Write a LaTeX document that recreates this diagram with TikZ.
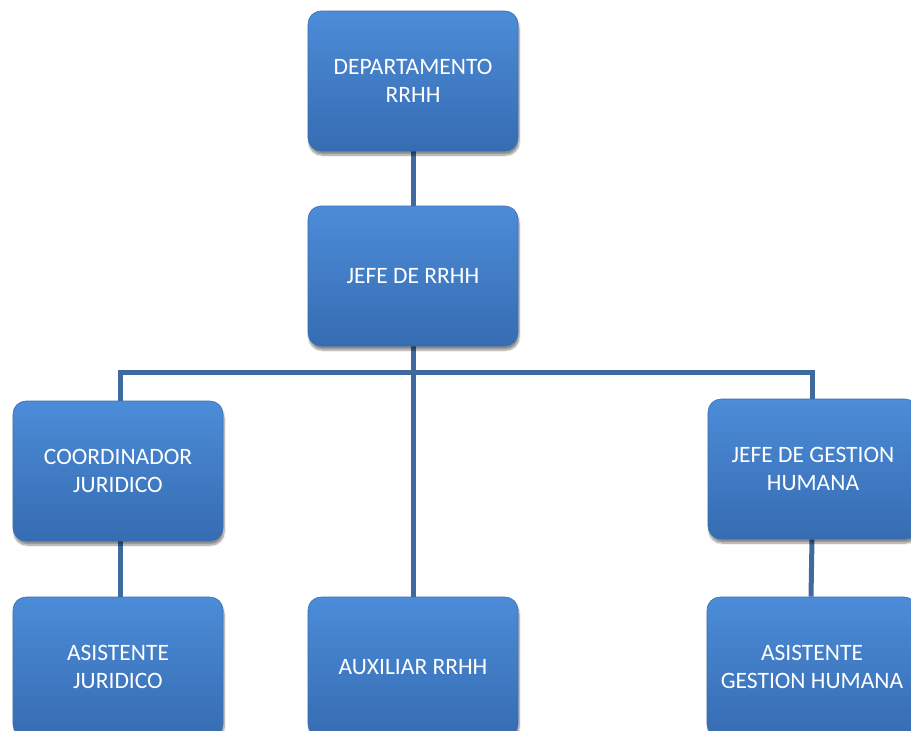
\documentclass[tikz,border=0pt]{standalone}
\usepackage{fontspec}
\setmainfont{Carlito}
\usetikzlibrary{shadows.blur,backgrounds}
\definecolor{boxtop}{RGB}{76,140,216}
\definecolor{boxbot}{RGB}{54,108,178}
\definecolor{boxrim}{RGB}{58,110,176}
\definecolor{linkcol}{RGB}{62,106,160}
\tikzset{
  orgbox/.style={rectangle, rounded corners=13pt, minimum width=210pt,
    minimum height=140pt, top color=boxtop, bottom color=boxbot,
    draw=boxrim, line width=0.6pt,
    blur shadow={shadow xshift=1pt, shadow yshift=-4pt, shadow blur steps=8, shadow opacity=45},
    text=white, align=center, inner sep=2pt,
    font=\fontsize{23.5pt}{28.5pt}\selectfont},
  link/.style={draw=linkcol, line width=5pt}
}
\begin{document}
\begin{tikzpicture}[x=1pt,y=-1pt]
\useasboundingbox (0,0) rectangle (911,731);
\node[orgbox] (dept) at (413,81) {DEPARTAMENTO\\RRHH};
\node[orgbox] (jefe) at (413,276) {JEFE DE RRHH};
\node[orgbox] (coord) at (118,471) {COORDINADOR\\JURIDICO};
\node[orgbox] (jg) at (813,469) {JEFE DE GESTION\\HUMANA};
\node[orgbox] (asj) at (118,667) {ASISTENTE\\JURIDICO};
\node[orgbox] (aux) at (413,667) {AUXILIAR RRHH};
\node[orgbox] (asg) at (812,667) {ASISTENTE\\GESTION HUMANA};
\coordinate (bus) at (413,372);
\begin{scope}[on background layer]
\draw[link] (dept.south) -- (jefe.north);
\draw[link] (jefe.south) -- (aux.north);
\draw[link] ([xshift=2pt]coord.north) |- (bus) -| ([xshift=-1pt]jg.north);
\draw[link] ([xshift=2pt]coord.south) -- ([xshift=2pt]asj.north);
\draw[link] ([xshift=-1pt]jg.south) -- ([xshift=-1pt]asg.north);
\end{scope}
\end{tikzpicture}
\end{document}
